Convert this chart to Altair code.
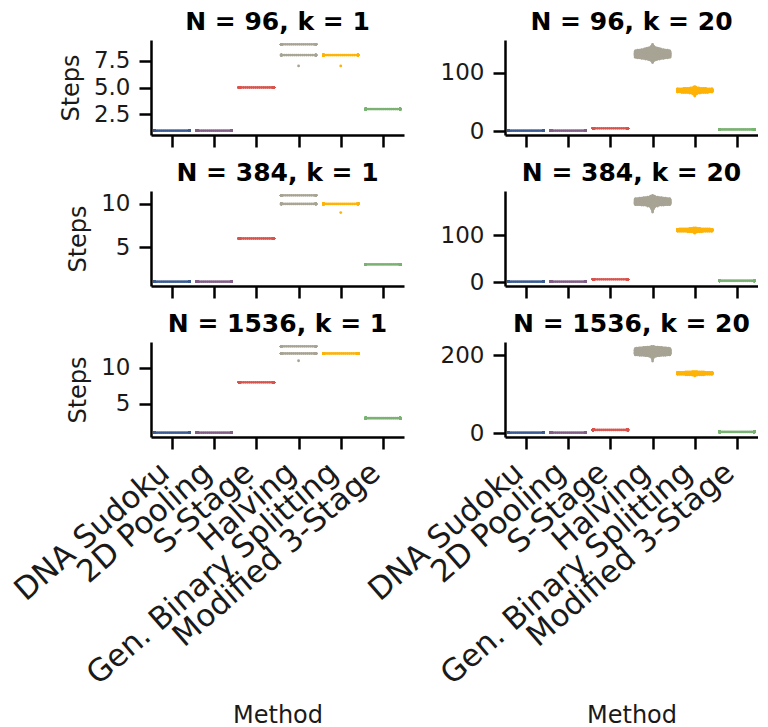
import altair as alt
import pandas as pd

METHODS = ["DNA Sudoku", "2D Pooling", "S-Stage", "Halving",
           "Gen. Binary Splitting", "Modified 3-Stage"]
COLORS = ["#3b5b92", "#825f87", "#d9544d", "#a8a495", "#feb308", "#7bb274"]
PANEL_TITLES = ["N = 96, k = 1", "N = 96, k = 20",
                "N = 384, k = 1", "N = 384, k = 20",
                "N = 1536, k = 1", "N = 1536, k = 20"]

# (values, counts) per method for each panel
n96_k1 = {
    "DNA Sudoku": ([1], [100]),
    "2D Pooling": ([1], [100]),
    "S-Stage": ([5], [100]),
    "Halving": ([7, 8, 9], [1, 45, 54]),
    "Gen. Binary Splitting": ([7, 8], [1, 99]),
    "Modified 3-Stage": ([3], [100]),
}
n96_k20 = {
    "DNA Sudoku": ([1], [100]),
    "2D Pooling": ([1], [100]),
    "S-Stage": ([5], [100]),
    "Halving": ([117, 119, 120, 121, 122, 123, 124, 125, 126, 127, 128, 129, 130, 131, 132,
                 133, 134, 135, 136, 137, 138, 139, 140, 141, 142, 143, 145, 148],
                [1, 1, 2, 3, 5, 8, 12, 16, 19, 21, 22, 22, 22, 22, 22,
                 21, 21, 20, 19, 18, 16, 12, 9, 7, 5, 3, 2, 1]),
    "Gen. Binary Splitting": ([60, 62, 63, 64, 65, 66, 67, 68, 69, 70, 71, 72, 73, 74, 75, 76],
                              [1, 1, 2, 3, 6, 14, 20, 24, 26, 26, 24, 20, 12, 5, 2, 1]),
    "Modified 3-Stage": ([3], [100]),
}
n384_k1 = {
    "DNA Sudoku": ([1], [100]),
    "2D Pooling": ([1], [100]),
    "S-Stage": ([6], [100]),
    "Halving": ([10, 11], [48, 52]),
    "Gen. Binary Splitting": ([9, 10], [1, 99]),
    "Modified 3-Stage": ([3], [100]),
}
n384_k20 = {
    "DNA Sudoku": ([1], [100]),
    "2D Pooling": ([1], [100]),
    "S-Stage": ([6], [100]),
    "Halving": ([150, 153, 155, 157, 159, 161, 163, 165, 166, 167, 168, 169, 170, 171,
                 172, 173, 174, 175, 176, 177, 178, 179, 180, 181, 182, 184, 186],
                [1, 1, 1, 2, 2, 3, 6, 12, 18, 20, 21, 22, 22, 22,
                 22, 22, 22, 22, 21, 21, 20, 18, 14, 10, 6, 3, 1]),
    "Gen. Binary Splitting": ([105, 107, 108, 109, 110, 111, 112, 113, 114, 115, 116],
                              [1, 2, 8, 18, 24, 26, 26, 24, 16, 6, 2]),
    "Modified 3-Stage": ([3], [100]),
}
n1536_k1 = {
    "DNA Sudoku": ([1], [100]),
    "2D Pooling": ([1], [100]),
    "S-Stage": ([8], [100]),
    "Halving": ([11, 12, 13], [1, 50, 49]),
    "Gen. Binary Splitting": ([12], [100]),
    "Modified 3-Stage": ([3], [100]),
}
n1536_k20 = {
    "DNA Sudoku": ([1], [100]),
    "2D Pooling": ([1], [100]),
    "S-Stage": ([8], [100]),
    "Halving": ([185, 190, 194, 197, 199, 200, 201, 202, 203, 204, 205, 206, 207, 208,
                 209, 210, 211, 212, 213, 214, 215, 216, 217, 218, 219, 220, 221, 223],
                [1, 1, 2, 4, 8, 14, 18, 20, 21, 22, 22, 22, 22, 22,
                 22, 22, 22, 22, 22, 21, 21, 20, 19, 17, 14, 10, 6, 2]),
    "Gen. Binary Splitting": ([147, 149, 150, 151, 152, 153, 154, 155, 156, 157, 158],
                              [1, 3, 10, 18, 24, 26, 26, 24, 18, 10, 3]),
    "Modified 3-Stage": ([3], [100]),
}

PANEL_DATA = [n96_k1, n96_k20, n384_k1, n384_k20, n1536_k1, n1536_k20]
Y_TICKS = [[2.5, 5.0, 7.5], [0, 100], [5, 10], [0, 100], [5, 10], [0, 200]]
Y_FORMATS = [".1f", "d", "d", "d", "d", "d"]

FONT = "DejaVu Sans"
label_expr = "[" + ",".join("'" + m + "'" for m in METHODS) + "][datum.value]"


def build_df(panel):
    rows = []
    for i, m in enumerate(METHODS):
        vals, cnts = panel[m]
        for v, c in zip(vals, cnts):
            for _ in range(c):
                rows.append({"Method": m, "idx": i, "Steps": v})
    return pd.DataFrame(rows)


charts = []
for p, (title, panel) in enumerate(zip(PANEL_TITLES, PANEL_DATA)):
    df = build_df(panel)
    lo, hi = df["Steps"].min(), df["Steps"].max()
    pad = (hi - lo) * 0.05
    left = p % 2 == 0
    bottom = p >= 4

    if bottom:
        xaxis = alt.Axis(values=list(range(6)), labelExpr=label_expr, labelAngle=-41,
                         labelAlign="right", labelBaseline="top", labelFontSize=31,
                         labelPadding=8, labelOffset=-17, labelOverlap=False,
                         labelLimit=1000, labelFlush=False,
                         title="Method", titleFontSize=24,
                         titlePadding=66, grid=False)
    else:
        xaxis = alt.Axis(values=list(range(6)), labels=False, title=None, grid=False)

    yaxis = alt.Axis(values=Y_TICKS[p], format=Y_FORMATS[p], labelFontSize=23,
                     labelPadding=9, grid=False, labelFlush=False,
                     title="Steps" if left else None, titleFontSize=24, titlePadding=10)

    c = (
        alt.Chart(df, title=alt.TitleParams(title, fontSize=25, fontWeight="bold",
                                            font=FONT, offset=5, color="black"))
        .transform_window(rank="row_number()", groupby=["Method", "Steps"])
        .transform_joinaggregate(n="count()", groupby=["Method", "Steps"])
        .transform_calculate(
            xpos="datum.idx + clamp((datum.rank - 1 - (datum.n - 1) / 2) * 0.047, -0.41, 0.41)")
        .mark_circle(size=8, opacity=1)
        .encode(
            x=alt.X("xpos:Q", scale=alt.Scale(domain=[-0.5, 5.5], nice=False, zero=False),
                    axis=xaxis),
            y=alt.Y("Steps:Q", scale=alt.Scale(domain=[lo - pad, hi + pad], nice=False,
                                               zero=False), axis=yaxis),
            color=alt.Color("Method:N", scale=alt.Scale(domain=METHODS, range=COLORS),
                            legend=None),
        )
        .properties(width=253, height=95)
    )
    charts.append(c)

chart = (
    alt.concat(*charts, columns=2, bounds="flush", spacing={"row": 56, "column": 101})
    .properties(padding={"left": 0, "top": 2, "right": 0, "bottom": 0})
    .configure_view(stroke=None)
    .configure_axis(domainColor="black", tickColor="black", domainWidth=2.5,
                    tickWidth=2.5, tickSize=12, labelColor="#1a1a1a",
                    titleColor="#1a1a1a", labelFont=FONT, titleFont=FONT,
                    titleFontWeight="normal")
    .configure_title(font=FONT)
)

chart.save("out.html", embed_options={"renderer": "svg", "actions": False})
